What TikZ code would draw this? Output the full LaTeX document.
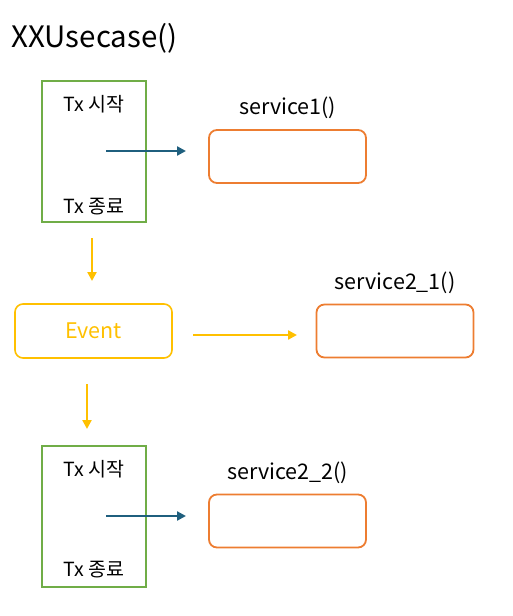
\documentclass[tikz,border=0pt]{standalone}
\usepackage{fontspec}
\setmainfont{Noto Sans CJK KR}
\usetikzlibrary{arrows.meta}
\definecolor{grn}{HTML}{70AD47}
\definecolor{org}{HTML}{ED7D31}
\definecolor{ylw}{HTML}{FFC000}
\definecolor{blu}{HTML}{1F5F7E}
\begin{document}
\begin{tikzpicture}[x=1pt,y=-1pt,
  txbox/.style={draw=grn,line width=1.8pt,minimum width=104pt,minimum height=141pt,inner sep=0pt},
  svcbox/.style={draw=org,line width=1.8pt,rounded corners=8pt,minimum width=157pt,minimum height=53pt,inner sep=0pt},
  evbox/.style={draw=ylw,line width=1.6pt,rounded corners=8pt,minimum width=157pt,minimum height=54pt,inner sep=0pt,text=ylw,font=\fontsize{21.5}{24}\selectfont},
  txt/.style={font=\fontsize{19.5}{22}\selectfont,inner sep=0pt},
  lbl/.style={font=\fontsize{21.5}{24}\selectfont,inner sep=0pt},
  barrow/.style={draw=blu,line width=2.8pt,-{Triangle[length=9pt,width=9pt]}},
  yarrow/.style={draw=ylw,line width=2.8pt,-{Triangle[length=9pt,width=9pt]}}]
\useasboundingbox (0,0) rectangle (513,616);
\node[font=\fontsize{29.5}{32}\selectfont,inner sep=0pt,anchor=west] (title) at (11,38) {XXUsecase()};
% block 1
\node[txbox] (tx1) at (94,151.5) {};
\node[txt] (tx1s) at (94,104) {Tx 시작};
\node[txt] (tx1e) at (94,207) {Tx 종료};
\node[svcbox] (s1) at (287.5,156.5) {};
\node[lbl] (s1l) at (287.5,108) {service1()};
\coordinate (a1s) at (106,151);
\coordinate (a1e) at (186,151);
\draw[barrow] (a1s) -- (a1e);
% down arrow 1
\coordinate (d1s) at (92,238);
\coordinate (d1e) at (92,281);
\draw[yarrow] (d1s) -- (d1e);
% event
\node[evbox] (ev) at (93.5,331) {Event};
\node[svcbox] (s21) at (395,331) {};
\node[lbl] (s21l) at (395,283) {service2\_1()};
\coordinate (a2s) at (193,335);
\coordinate (a2e) at (297,335);
\draw[yarrow] (a2s) -- (a2e);
% down arrow 2
\coordinate (d2s) at (87,384);
\coordinate (d2e) at (87,429);
\draw[yarrow] (d2s) -- (d2e);
% block 3
\node[txbox] (tx3) at (94,516.5) {};
\node[txt] (tx3s) at (94,469) {Tx 시작};
\node[txt] (tx3e) at (94,570) {Tx 종료};
\node[svcbox] (s22) at (287.5,521) {};
\node[lbl] (s22l) at (287.5,473) {service2\_2()};
\coordinate (a3s) at (106,516);
\coordinate (a3e) at (186,516);
\draw[barrow] (a3s) -- (a3e);
\end{tikzpicture}
\end{document}
